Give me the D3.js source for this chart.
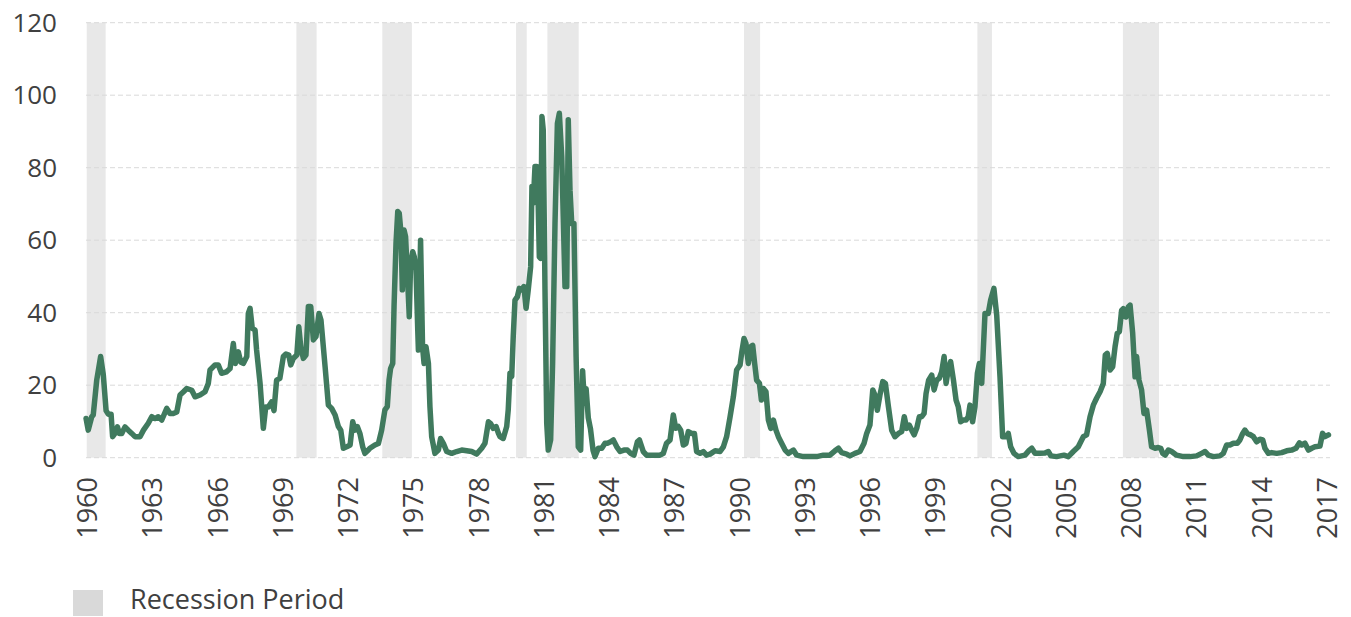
<head>
    <script src="https://d3js.org/d3.v7.min.js"></script>
</head>
<body style="margin:0;background:#fff">
<script>
    // decimal year of each reading and its value
    let dates = [
        1960.21,1960.31,1960.47,1960.54,1960.70,1960.88,1961.00,1961.13,1961.23,1961.36,1961.43,1961.54,1961.65,1961.74,1961.85,
        1962.00,1962.15,1962.31,1962.46,1962.69,1962.85,1963.07,1963.23,1963.38,1963.53,1963.69,1963.92,1964.07,1964.22,1964.38,
        1964.53,1964.69,1964.84,1965.07,1965.22,1965.45,1965.68,1965.83,1965.91,1966.14,1966.29,1966.44,1966.67,1966.83,1966.98,
        1967.07,1967.21,1967.32,1967.44,1967.60,1967.67,1967.75,1967.85,1967.98,1968.05,1968.21,1968.36,1968.47,1968.59,1968.74,
        1968.85,1968.97,1969.12,1969.28,1969.40,1969.53,1969.62,1969.74,1969.90,1969.99,1970.08,1970.20,1970.32,1970.43,1970.54,
        1970.66,1970.78,1970.92,1971.01,1971.20,1971.35,1971.50,1971.66,1971.81,1971.92,1972.04,1972.19,1972.35,1972.47,1972.57,
        1972.68,1972.80,1972.93,1973.03,1973.19,1973.26,1973.49,1973.65,1973.80,1973.95,1974.06,1974.14,1974.21,1974.31,1974.37,
        1974.46,1974.54,1974.61,1974.69,1974.75,1974.83,1974.90,1974.98,1975.07,1975.13,1975.23,1975.30,1975.38,1975.46,1975.49,
        1975.59,1975.68,1975.75,1975.84,1975.95,1976.02,1976.10,1976.25,1976.41,1976.51,1976.64,1976.79,1977.02,1977.25,1977.48,
        1977.71,1977.94,1978.17,1978.40,1978.55,1978.71,1978.81,1978.93,1979.06,1979.17,1979.24,1979.39,1979.55,1979.62,1979.70,
        1979.78,1979.85,1979.93,1980.04,1980.13,1980.24,1980.34,1980.44,1980.54,1980.65,1980.71,1980.77,1980.85,1980.93,1981.00,
        1981.05,1981.11,1981.17,1981.23,1981.31,1981.39,1981.46,1981.57,1981.66,1981.77,1981.88,1981.97,1982.08,1982.15,1982.23,
        1982.31,1982.38,1982.46,1982.54,1982.64,1982.74,1982.84,1982.95,1983.04,1983.12,1983.20,1983.30,1983.40,1983.52,1983.61,
        1983.76,1983.92,1984.07,1984.18,1984.33,1984.45,1984.61,1984.76,1984.94,1985.10,1985.25,1985.40,1985.56,1985.65,1985.83,
        1985.98,1986.29,1986.60,1986.75,1986.90,1987.06,1987.21,1987.32,1987.44,1987.55,1987.67,1987.79,1987.90,1988.05,1988.18,
        1988.28,1988.44,1988.59,1988.74,1988.90,1989.13,1989.36,1989.51,1989.66,1989.82,1989.97,1990.12,1990.28,1990.35,1990.46,
        1990.55,1990.66,1990.77,1990.86,1990.95,1991.04,1991.17,1991.26,1991.35,1991.47,1991.58,1991.69,1991.81,1991.93,1992.04,
        1992.19,1992.35,1992.50,1992.73,1992.88,1993.19,1993.49,1993.80,1994.11,1994.41,1994.64,1994.80,1994.95,1995.18,1995.33,
        1995.56,1995.79,1995.98,1996.10,1996.25,1996.38,1996.48,1996.59,1996.71,1996.84,1996.96,1997.10,1997.25,1997.40,1997.56,
        1997.71,1997.83,1997.94,1998.06,1998.17,1998.28,1998.40,1998.52,1998.63,1998.74,1998.83,1998.95,1999.09,1999.20,1999.32,
        1999.44,1999.55,1999.66,1999.75,1999.86,1999.96,2000.09,2000.21,2000.31,2000.42,2000.54,2000.67,2000.77,2000.85,2000.97,
        2001.08,2001.19,2001.28,2001.39,2001.54,2001.69,2001.80,2001.95,2002.08,2002.23,2002.35,2002.51,2002.61,2002.72,2002.87,
        2003.07,2003.38,2003.58,2003.69,2003.84,2004.07,2004.30,2004.45,2004.57,2004.83,2005.17,2005.37,2005.60,2005.83,2006.06,
        2006.21,2006.37,2006.52,2006.67,2006.83,2006.98,2007.07,2007.16,2007.29,2007.41,2007.52,2007.62,2007.72,2007.82,2007.90,
        2008.02,2008.13,2008.21,2008.33,2008.44,2008.51,2008.62,2008.74,2008.85,2008.97,2009.10,2009.20,2009.36,2009.51,2009.62,
        2009.71,2009.82,2009.97,2010.12,2010.35,2010.66,2010.97,2011.27,2011.50,2011.66,2011.81,2012.04,2012.34,2012.50,2012.65,
        2012.80,2012.96,2013.14,2013.26,2013.39,2013.49,2013.60,2013.75,2013.88,2014.03,2014.18,2014.31,2014.41,2014.57,2014.72,
        2014.95,2015.18,2015.41,2015.64,2015.84,2016.00,2016.10,2016.25,2016.41,2016.56,2016.71,2016.94,2017.06,2017.17,2017.33
    ];
    let values = [
        10.8,7.6,11.3,11.8,21.4,27.9,23.0,13.0,12.0,12.0,5.8,6.7,8.5,6.7,6.7,
        8.5,7.6,6.7,5.8,5.8,7.6,9.5,11.3,10.8,11.3,10.4,13.6,12.2,12.2,12.6,
        17.3,18.2,19.1,18.6,16.8,17.3,18.2,20.5,24.2,25.6,25.6,23.3,23.7,24.6,31.5,
        26.0,29.2,26.4,26.0,27.9,39.8,41.2,35.7,35.2,29.7,20.5,8.1,14.0,14.0,15.4,
        13.0,21.4,21.9,27.9,28.6,28.3,25.6,27.4,28.3,36.1,30.6,27.4,28.3,41.7,41.7,
        32.5,33.4,39.8,38.0,25.1,14.5,13.6,11.8,8.6,7.6,2.6,3.0,3.5,9.9,7.6,
        8.6,6.7,3.0,1.2,2.1,2.6,3.5,3.9,7.6,13.2,14.1,21.4,24.6,26.0,41.7,
        59.1,67.9,67.4,61.9,46.3,62.8,61.0,50.9,38.9,53.6,56.8,55.4,51.8,35.2,29.7,
        60.0,30.6,26.0,30.6,26.0,14.1,5.8,1.2,2.1,5.3,3.9,1.7,1.2,1.7,2.1,
        1.9,1.7,1.0,2.6,4.0,9.9,9.4,8.1,8.6,6.7,5.8,5.3,8.6,13.2,23.3,
        22.4,33.4,43.5,44.4,46.7,46.3,47.2,41.2,46.3,52.7,74.8,70.2,80.3,80.3,69.2,
        55.4,55.0,94.1,90.4,46.3,9.5,2.1,4.9,26.0,64.6,92.2,95.0,83.0,66.5,47.2,
        47.2,93.2,73.8,64.6,64.6,27.9,3.0,2.1,24.0,15.0,19.0,11.0,8.0,2.0,0.3,
        2.6,2.6,4.0,4.0,4.4,4.9,3.0,1.7,2.1,2.1,1.2,0.7,4.4,4.9,1.7,
        0.7,0.7,0.7,1.2,4.0,4.9,11.8,8.1,8.6,7.6,3.5,3.9,7.2,6.7,6.7,
        1.7,1.2,1.7,0.7,1.0,1.9,1.7,3.0,5.8,11.3,16.8,24.2,25.6,28.8,32.9,
        31.5,26.0,30.6,31.0,26.0,21.4,20.5,15.9,19.1,18.2,10.4,8.1,10.4,7.6,5.8,
        4.0,2.1,1.2,2.1,0.7,0.3,0.3,0.3,0.7,0.7,1.9,2.6,1.4,1.0,0.5,
        1.2,1.7,4.0,6.7,9.0,18.7,17.3,13.1,17.3,21.0,20.5,14.1,7.6,5.8,6.7,
        7.2,11.3,8.1,9.0,7.6,6.3,8.1,11.3,11.3,12.2,17.7,21.4,22.8,18.7,21.4,
        21.9,23.7,27.9,20.5,24.6,26.5,21.4,15.9,14.1,9.9,10.4,10.4,11.3,14.5,9.9,
        14.1,23.3,26.0,20.5,39.8,39.8,43.5,46.7,39.2,22.3,5.8,5.8,6.7,3.0,1.2,
        0.3,0.7,2.1,2.6,1.2,1.2,1.3,1.7,0.5,0.3,0.7,0.3,1.7,3.0,5.8,
        6.3,11.3,14.5,16.4,18.2,20.5,28.3,28.8,24.2,25.1,30.6,34.3,34.8,40.6,41.1,
        38.8,41.6,42.1,34.3,22.3,27.9,21.4,18.7,12.2,13.1,7.6,3.0,2.6,2.8,2.6,
        1.2,0.7,2.1,1.7,0.7,0.3,0.3,0.5,1.2,1.7,0.7,0.3,0.5,1.2,3.5,
        3.5,4.0,4.0,4.9,6.7,7.6,6.7,6.3,5.8,4.4,5.1,4.9,2.6,1.2,1.4,
        1.2,1.4,1.9,2.1,2.6,4.1,3.5,4.0,2.1,2.6,3.0,3.2,6.7,5.8,6.3
    ];
    let recessionStart = [1960.24, 1969.88, 1973.83, 1979.98, 1981.42, 1990.46, 2001.19, 2007.88];
    let recessionEnd   = [1961.11, 1970.81, 1975.19, 1980.47, 1982.86, 1991.20, 2001.86, 2009.54];
    let yearTicks = d3.range(1960, 2018, 3);
    let yTicks = [0, 20, 40, 60, 80, 100, 120];

    let width = 1351;
    let height = 617;
    let svg = d3.select("body").append("svg")
        .attr("width", width)
        .attr("height", height)
        .style("font-family", "'Open Sans', sans-serif");

    let x = d3.scaleLinear().domain([1960, 2017]).range([81.5, 1321.25]);
    let y = d3.scaleLinear().domain([0, 120]).range([457.7, 22.7]);
    let textColor = "#404040";

    // recession bands
    svg.selectAll(".band")
        .data(d3.zip(recessionStart, recessionEnd))
        .join("rect")
        .attr("class", "band")
        .attr("x", d => x(d[0]))
        .attr("width", d => x(d[1]) - x(d[0]))
        .attr("y", y(120))
        .attr("height", y(0) - y(120))
        .attr("fill", "#e8e8e8");

    // dashed grid
    svg.selectAll(".grid")
        .data(yTicks)
        .join("line")
        .attr("class", "grid")
        .attr("x1", 86)
        .attr("x2", 1330)
        .attr("y1", d => y(d))
        .attr("y2", d => y(d))
        .attr("stroke", "#d9d9d9")
        .attr("stroke-width", 1)
        .attr("stroke-dasharray", "5,3");

    // y labels
    svg.selectAll(".ylabel")
        .data(yTicks)
        .join("text")
        .attr("class", "ylabel")
        .attr("x", 57)
        .attr("y", d => y(d))
        .attr("dy", "0.35em")
        .attr("text-anchor", "end")
        .attr("font-size", 26)
        .attr("fill", textColor)
        .text(d => d);

    // x labels, rotated
    svg.selectAll(".xlabel")
        .data(yearTicks)
        .join("text")
        .attr("class", "xlabel")
        .attr("transform", d => `translate(${x(d) + 6},477) rotate(-90)`)
        .attr("dy", "0.36em")
        .attr("text-anchor", "end")
        .attr("font-size", 27)
        .attr("fill", textColor)
        .text(d => d);

    // the series
    let line = d3.line()
        .x(d => x(d[0]))
        .y(d => y(d[1]));

    svg.append("path")
        .datum(d3.zip(dates, values))
        .attr("d", line)
        .attr("fill", "none")
        .attr("stroke", "#407a5e")
        .attr("stroke-width", 5.5)
        .attr("stroke-linejoin", "round")
        .attr("stroke-linecap", "round");

    // legend
    svg.append("rect")
        .attr("x", 73)
        .attr("y", 590)
        .attr("width", 30)
        .attr("height", 26)
        .attr("fill", "#d9d9d9");

    svg.append("text")
        .attr("x", 130)
        .attr("y", 609)
        .attr("font-size", 27)
        .attr("fill", textColor)
        .text("Recession Period");
</script>
</body>
</html>
